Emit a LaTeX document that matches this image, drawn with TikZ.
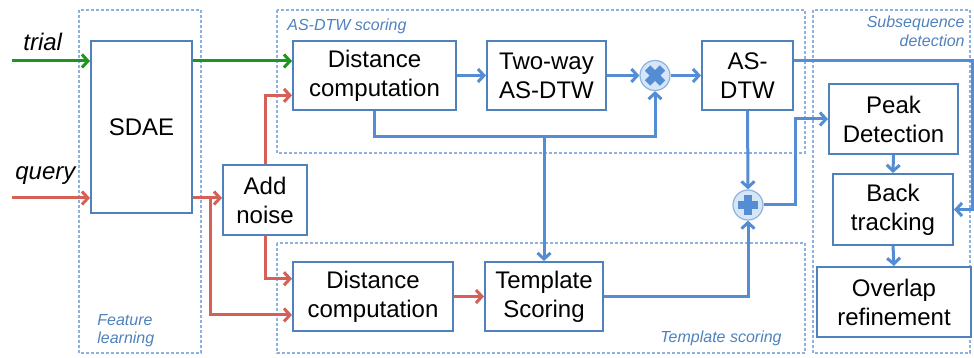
\documentclass[tikz,border=0pt]{standalone}
\usepackage{fontspec}
\setmainfont{Liberation Sans}
\usetikzlibrary{arrows.meta,calc}

\definecolor{flowblue}{RGB}{84,141,212}
\definecolor{boxblue}{RGB}{79,129,189}
\definecolor{frameblue}{RGB}{141,178,222}
\definecolor{trialgreen}{RGB}{30,150,30}
\definecolor{queryred}{RGB}{212,96,86}
\definecolor{opfill}{RGB}{214,230,247}

\tikzset{every picture/.style={line width=0.75pt},
  block/.style={draw=boxblue,line width=2pt,fill=white,align=center,inner sep=0pt,font=\fontsize{24}{29}\selectfont},
  oper/.style={circle,draw=frameblue,fill=opfill,line width=1.2pt,minimum size=30pt,inner sep=0pt},
  opsign/.style={draw=flowblue,line width=7.5pt},
  region/.style={draw=frameblue,line width=1.2pt,dash pattern=on 3pt off 2pt},
  regionlabel/.style={text=boxblue,font=\fontsize{16}{18}\selectfont\itshape,inner sep=0pt},
  inlabel/.style={font=\fontsize{24}{29}\selectfont\itshape,inner sep=0pt},
  tip/.style={-{Straight Barb[length=6pt,width=13pt]}},
  flow/.style={draw=flowblue,line width=3pt},
  trialflow/.style={draw=trialgreen,line width=3pt},
  queryflow/.style={draw=queryred,line width=3pt}
}

\begin{document}
\begin{tikzpicture}[x=1pt,y=1pt,yscale=-1,xscale=1]
\useasboundingbox (0,0) rectangle (974,358);

%Regions
\draw [region] (79,10) rectangle (201,353);
\draw [region] (277,10) rectangle (805,153);
\draw [region] (277,243) rectangle (805,353);
\draw [region] (813,10) rectangle (970,353);
\node [regionlabel,anchor=base west] (lblfeat) at (97,325) {Feature};
\node [regionlabel,anchor=base west] (lbllearn) at (97,343) {learning};
\node [regionlabel,anchor=base west] (lblasdtw) at (287,31) {AS-DTW scoring};
\node [regionlabel,anchor=base east] (lbltmpl) at (782,342) {Template scoring};
\node [regionlabel,anchor=base east] (lblsubseq) at (965,28) {Subsequence};
\node [regionlabel,anchor=base east] (lbldetect) at (965,47) {detection};

%Blocks
\node [block,minimum width=101pt,minimum height=172pt] (sdae) at (141.5,127) {SDAE};
\node [block,minimum width=84pt,minimum height=70pt] (noise) at (265,200) {Add\\noise};
\node [block,minimum width=163pt,minimum height=69pt] (dist1) at (374.5,75.5) {Distance\\computation};
\node [block,minimum width=119pt,minimum height=69pt] (twoway) at (546.5,75.5) {Two-way\\AS-DTW};
\node [block,minimum width=91pt,minimum height=69pt] (asdtw) at (747.5,75.5) {AS-\\DTW};
\node [block,minimum width=160pt,minimum height=69pt] (dist2) at (373,296.5) {Distance\\computation};
\node [block,minimum width=118pt,minimum height=69pt] (tmpl) at (544,296.5) {Template\\Scoring};
\node [block,minimum width=129pt,minimum height=70pt] (peak) at (893.5,119) {Peak\\Detection};
\node [block,minimum width=120pt,minimum height=71pt] (back) at (893,209.5) {Back\\tracking};
\node [block,minimum width=154pt,minimum height=70pt] (overlap) at (894,302) {Overlap\\refinement};

%Operators
\node [oper] (mult) at (655,75.5) {};
\draw [opsign] ($(mult)+(-7.5,-7.5)$) -- ($(mult)+(7.5,7.5)$) ($(mult)+(-7.5,7.5)$) -- ($(mult)+(7.5,-7.5)$);
\node [oper] (plus) at (748,205) {};
\draw [opsign] ($(plus)+(-10,0)$) -- ($(plus)+(10,0)$) ($(plus)+(0,-10)$) -- ($(plus)+(0,10)$);

%Inputs
\node [inlabel,anchor=base west] (trial) at (23,51) {trial};
\node [inlabel,anchor=base west] (query) at (15,180) {query};
\coordinate (trialin) at (12,61);
\coordinate (queryin) at (12,198);
\coordinate (split) at (210,198);
\coordinate (bus) at (0,137);
\coordinate (plusturn) at (795,0);
\coordinate (rightturn) at (972,0);

%Green lines
\draw [trialflow,tip] (trialin) -- (trialin -| sdae.west);
\draw [trialflow,tip] (trialin -| sdae.east) -- (trialin -| dist1.west);
%Red lines
\draw [queryflow,tip] (queryin) -- (queryin -| sdae.west);
\draw [queryflow,tip] (queryin -| sdae.east) -- (queryin -| noise.west);
\draw [queryflow,tip] (split) |- ($(dist2.north west)!0.76!(dist2.south west)$);
\draw [queryflow,tip] (noise.north) |- ($(dist1.north west)!0.78!(dist1.south west)$);
\draw [queryflow,tip] (noise.south) |- ($(dist2.north west)!0.25!(dist2.south west)$);
\draw [queryflow,tip] (dist2.east) -- (tmpl.west);
%Blue lines
\draw [flow,tip] (dist1.east) -- (twoway.west);
\draw [flow,tip] (twoway.east) -- (mult.west);
\draw [flow,tip] (mult.east) -- (asdtw.west);
\draw [flow,tip] (dist1.south) |- (bus -| mult.south) -- (mult.south);
\draw [flow,tip] (bus -| tmpl.north) -- (tmpl.north);
\draw [flow,tip] (asdtw.south) -- (plus.north);
\draw [flow,tip] (tmpl.east) -| (plus.south);
\draw [flow,tip] (plus.east) -- (plus.east -| plusturn) |- (peak.west);
\draw [flow,tip] ($(asdtw.north east)!0.29!(asdtw.south east)$) -| (rightturn |- back.north) |- (back.east);
\draw [flow,tip] (peak.south) -- (back.north);
\draw [flow,tip] (back.south) -- (overlap.north);

\end{tikzpicture}
\end{document}
